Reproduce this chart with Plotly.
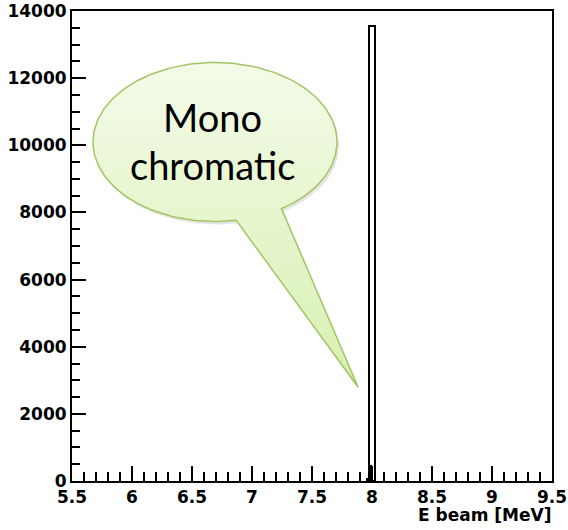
import numpy as np
import plotly.graph_objects as go

# ---- data ----
peak_energy = [8.0]          # MeV, bin centre
peak_counts = [13550]
bin_width = 0.05
low_energy = [7.9625, 7.9875]
low_counts = [90, 480]
low_width = 0.025
bubble_lines = ["Mono", "chromatic"]
x_title = "E beam [MeV]"

# ---- figure geometry (pixels) ----
W, H = 568, 530
L, R, T, B = 72, 16, 11, 49
pw, ph = W - L - R, H - T - B

def px2paper(px, py):
    return (np.asarray(px) - L) / pw, (H - B - np.asarray(py)) / ph

fig = go.Figure()
fig.add_trace(go.Bar(x=peak_energy, y=peak_counts, width=bin_width,
                     marker=dict(color="white", line=dict(color="black", width=2)),
                     showlegend=False, hoverinfo="skip"))
fig.add_trace(go.Bar(x=low_energy, y=low_counts, width=low_width,
                     marker=dict(color="black", line=dict(color="black", width=0)),
                     showlegend=False, hoverinfo="skip"))

# speech bubble outline (decoration, in paper coordinates)
cx, cy, rx, ry = 215, 142, 122, 79.5
t = np.radians(np.linspace(80, 417, 200))
bx = list(cx + rx * np.cos(t)) + [358]
by = list(cy + ry * np.sin(t)) + [387]
bx.append(bx[0]); by.append(by[0])
sx, sy = px2paper(np.array(bx) + 2, np.array(by) + 3)
fig.add_trace(go.Scatter(x=sx, y=sy, xaxis="x2", yaxis="y2", mode="lines",
                         line=dict(width=0, color="rgba(0,0,0,0)"), fill="toself",
                         fillcolor="rgba(0,0,0,0.10)", showlegend=False, hoverinfo="skip"))
qx, qy = px2paper(bx, by)
fig.add_trace(go.Scatter(x=qx, y=qy, xaxis="x2", yaxis="y2", mode="lines",
                         line=dict(width=1.5, color="#a3c565"), fill="toself",
                         fillgradient=dict(type="vertical",
                                           colorscale=[[0, "#d8f0b2"], [1, "#f3fbe8"]],
                                           start=float(min(qy)), stop=float(max(qy))),
                         showlegend=False, hoverinfo="skip"))

for txt, py in zip(bubble_lines, [117, 165]):
    ax, ay = px2paper(212, py)
    fig.add_annotation(x=float(ax), y=float(ay), xref="paper", yref="paper", text=txt,
                       showarrow=False, font=dict(family="Lato", size=38, color="black"),
                       xanchor="center", yanchor="middle")

tx, ty = px2paper(553, 515)
fig.add_annotation(x=float(tx), y=float(ty), xref="paper", yref="paper", text=x_title,
                   showarrow=False, xanchor="right", yanchor="middle",
                   font=dict(family="DejaVu Sans", size=17, color="black", weight="bold"))

tickfont = dict(family="DejaVu Sans", size=17, color="black", weight="bold")
fig.update_layout(
    width=W, height=H, margin=dict(l=L, r=R, t=T, b=B, autoexpand=False),
    paper_bgcolor="white", plot_bgcolor="white", barmode="overlay",
    xaxis=dict(range=[5.5, 9.5], tick0=5.5, dtick=0.5, ticks="inside", ticklen=15,
               tickwidth=2, tickcolor="black", showline=True, linewidth=2, linecolor="black",
               mirror=True, showgrid=False, zeroline=False, tickfont=tickfont, automargin=False,
               minor=dict(dtick=0.1, ticks="inside", ticklen=9, tickwidth=2, tickcolor="black",
                          showgrid=False)),
    yaxis=dict(range=[0, 14000], tick0=0, dtick=2000, ticks="inside", ticklen=14,
               tickwidth=2, tickcolor="black", showline=True, linewidth=2, linecolor="black",
               mirror=True, showgrid=False, zeroline=False, tickfont=tickfont, automargin=False,
               tickformat="d",
               minor=dict(dtick=500, ticks="inside", ticklen=8, tickwidth=2, tickcolor="black",
                          showgrid=False)),
    xaxis2=dict(range=[0, 1], overlaying="x", visible=False, fixedrange=True),
    yaxis2=dict(range=[0, 1], overlaying="y", visible=False, fixedrange=True),
)

fig.write_html("out.html")
